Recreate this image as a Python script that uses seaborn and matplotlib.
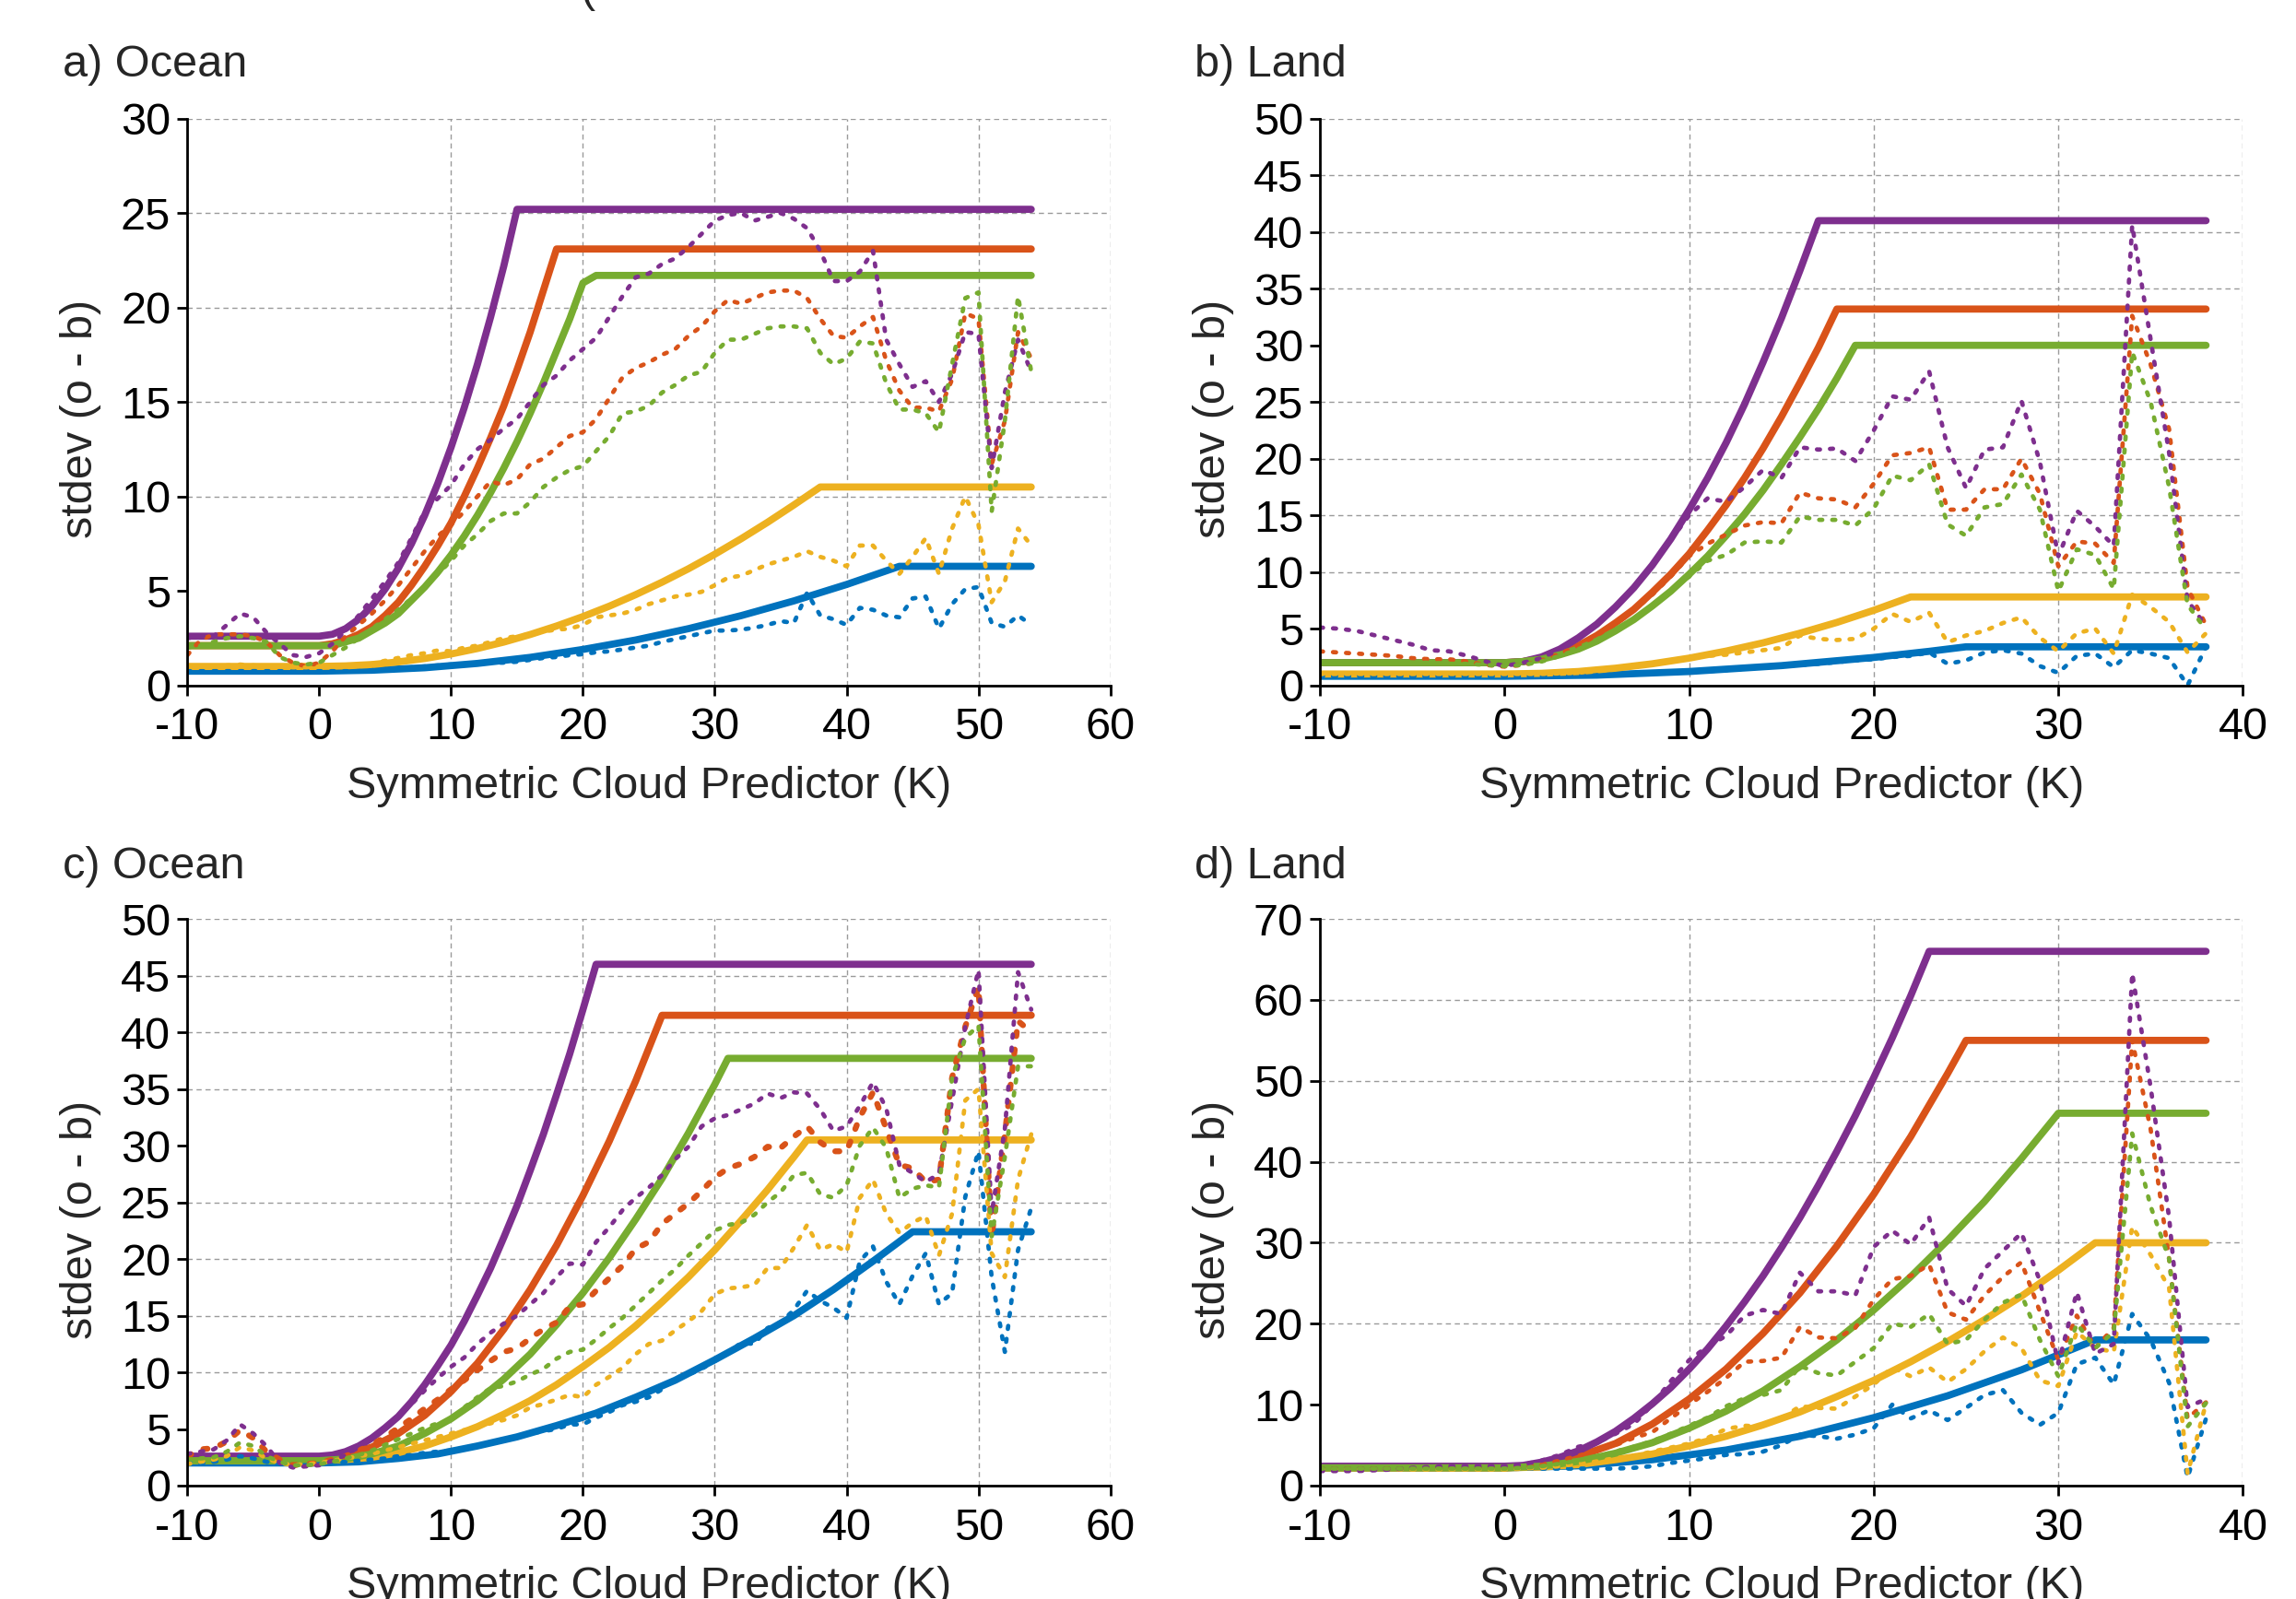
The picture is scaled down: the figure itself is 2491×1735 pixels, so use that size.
import numpy as np
import pandas as pd
import seaborn as sns
import matplotlib.pyplot as plt

# matlab default colours
BLUE = '#0072BD'
ORANGE = '#D95319'
YELLOW = '#EDB120'
PURPLE = '#7E2F8E'
GREEN = '#77AC30'

# predictor bins (K)
ocean_k = list(range(-10, 55))
land_k = list(range(-10, 39))

# ---------------- a) Ocean, observed stdev ----------------
a_blue_obs = [0.75, 0.75, 0.75, 0.75, 0.75, 0.75, 0.75, 0.75, 0.75, 0.75,
              0.75, 0.75, 0.75, 0.75, 0.8, 0.85, 0.9, 0.95, 1.0, 1.05,
              1.1, 1.1, 1.15, 1.2, 1.2, 1.25, 1.35, 1.45, 1.5, 1.6,
              1.65, 1.75, 1.8, 1.9, 2.0, 2.1, 2.3, 2.45, 2.6, 2.75,
              2.9, 2.9, 2.95, 3.05, 3.2, 3.4, 3.3, 4.9, 3.7, 3.5,
              3.2, 4.1, 4.0, 3.7, 3.6, 4.6, 4.7, 3.0, 4.3, 5.1,
              5.2, 3.3, 3.1, 3.7, 3.2]
a_orange_obs = [1.6, 2.4, 2.7, 2.7, 2.7, 2.6, 2.3, 1.6, 1.2, 1.0,
                1.2, 1.8, 2.6, 3.2, 3.8, 4.5, 5.3, 6.2, 7.1, 7.9,
                8.5, 9.2, 10.0, 10.8, 10.6, 10.9, 11.7, 12.0, 12.6, 13.2,
                13.4, 14.1, 15.2, 16.3, 16.8, 17.1, 17.5, 17.8, 18.5, 19.0,
                19.8, 20.4, 20.2, 20.5, 20.8, 20.9, 20.9, 20.5, 19.4, 18.5,
                18.4, 19.0, 19.5, 17.2, 15.6, 14.7, 14.7, 14.5, 16.2, 19.7,
                19.4, 11.7, 14.0, 18.7, 17.3]
a_yellow_obs = [1.0, 1.0, 1.0, 1.05, 1.1, 1.05, 1.0, 1.0, 0.95, 0.95,
                1.0, 1.0, 1.0, 1.05, 1.15, 1.3, 1.45, 1.6, 1.7, 1.85,
                1.8, 2.0, 2.1, 2.3, 2.5, 2.6, 2.7, 2.85, 2.95, 3.0,
                3.2, 3.6, 3.7, 3.8, 4.0, 4.3, 4.5, 4.7, 4.8, 4.95,
                5.3, 5.7, 5.8, 6.1, 6.4, 6.6, 6.8, 7.1, 6.8, 6.6,
                6.3, 7.4, 7.4, 6.6, 5.9, 6.8, 7.8, 5.9, 8.3, 10.0,
                8.5, 4.4, 5.5, 8.3, 7.4]
a_purple_obs = [2.5, 2.6, 2.6, 3.2, 3.8, 3.6, 2.8, 2.2, 1.6, 1.5,
                1.7, 2.2, 2.9, 3.7, 4.6, 5.5, 6.5, 7.8, 9.2, 9.9,
                10.6, 11.7, 12.5, 13.0, 13.6, 14.1, 15.0, 15.9, 16.4, 17.2,
                17.8, 18.4, 19.5, 20.6, 21.6, 21.8, 22.3, 22.6, 23.2, 23.9,
                24.6, 24.9, 25.0, 24.6, 24.8, 25.0, 24.7, 24.2, 23.0, 21.4,
                21.4, 21.9, 23.0, 18.3, 17.0, 15.8, 16.1, 15.0, 16.5, 18.7,
                18.6, 11.5, 15.5, 18.3, 16.6]
a_green_obs = [2.0, 2.1, 2.3, 2.5, 2.6, 2.5, 2.3, 1.5, 1.2, 1.1,
               1.2, 1.6, 2.0, 2.5, 3.0, 3.5, 4.0, 4.6, 5.2, 5.9,
               6.6, 7.4, 8.0, 8.7, 9.1, 9.1, 9.7, 10.5, 11.0, 11.4,
               11.6, 12.4, 13.2, 14.4, 14.5, 14.8, 15.5, 15.9, 16.4, 16.6,
               17.6, 18.3, 18.3, 18.6, 18.9, 19.0, 19.0, 18.9, 17.6, 17.0,
               17.3, 18.2, 18.1, 16.0, 14.6, 14.6, 14.4, 13.4, 17.0, 20.5,
               20.8, 9.2, 14.0, 20.6, 16.6]

# a) Ocean, error model
a_blue_fit_x = [-10, 0, 4, 8, 12, 16, 20, 24, 28, 32, 36, 40, 44, 54]
a_blue_fit = [0.75, 0.75, 0.8, 0.93, 1.16, 1.48, 1.9, 2.4, 3.0, 3.69, 4.47, 5.34, 6.3, 6.3]
a_orange_fit_x = [-10, 0, 1, 2, 3, 4, 5, 6, 7, 8, 9, 10, 11, 12, 13, 14, 15, 16, 17, 18, 54]
a_orange_fit = [2.1, 2.1, 2.2, 2.4, 2.7, 3.1, 3.7, 4.4, 5.3, 6.3, 7.4, 8.6, 10.0, 11.5, 13.1,
                14.8, 16.7, 18.7, 20.9, 23.1, 23.1]
a_yellow_fit_x = [-10, 0, 2, 4, 6, 8, 10, 12, 14, 16, 18, 20, 22, 24, 26, 28, 30, 32, 34, 36, 38, 54]
a_yellow_fit = [1.0, 1.0, 1.03, 1.1, 1.24, 1.42, 1.66, 1.95, 2.29, 2.69, 3.14, 3.64, 4.19, 4.8,
                5.46, 6.17, 6.94, 7.76, 8.63, 9.55, 10.5, 10.5]
a_purple_fit_x = [-10, 0, 1, 2, 3, 4, 5, 6, 7, 8, 9, 10, 11, 12, 13, 14, 15, 54]
a_purple_fit = [2.6, 2.6, 2.7, 3.0, 3.5, 4.2, 5.1, 6.2, 7.5, 9.0, 10.7, 12.6, 14.7, 17.0, 19.5,
                22.2, 25.2, 25.2]
a_green_fit_x = [-10, 0, 1, 2, 3, 4, 5, 6, 7, 8, 9, 10, 11, 12, 13, 14, 15, 16, 17, 18, 19, 20, 21, 54]
a_green_fit = [2.1, 2.1, 2.1, 2.3, 2.5, 2.9, 3.3, 3.8, 4.5, 5.2, 6.0, 6.9, 7.9, 9.0, 10.2, 11.5,
               12.9, 14.4, 16.0, 17.7, 19.4, 21.3, 21.7, 21.7]

# ---------------- b) Land, observed stdev ----------------
b_blue_obs = [0.8, 0.8, 0.8, 0.8, 0.8, 0.8, 0.8, 0.8, 0.8, 0.8,
              0.8, 0.8, 0.8, 0.8, 0.85, 0.9, 0.95, 1.0, 1.05, 1.1,
              1.2, 1.25, 1.35, 1.45, 1.55, 1.65, 1.8, 1.9, 2.05, 2.2,
              2.3, 2.5, 2.6, 2.9, 1.9, 2.2, 2.9, 3.1, 2.8, 1.7,
              1.1, 2.6, 2.8, 1.6, 3.1, 2.8, 2.4, 0.0, 3.4]
b_orange_obs = [3.0, 2.9, 2.8, 2.7, 2.6, 2.4, 2.3, 2.3, 2.1, 1.8,
                1.65, 1.8, 2.2, 2.8, 3.5, 4.4, 5.4, 6.6, 8.0, 9.6,
                11.4, 12.5, 13.3, 14.1, 14.4, 14.3, 17.0, 16.5, 16.4, 15.7,
                17.8, 20.3, 20.5, 21.0, 15.5, 15.5, 17.3, 17.3, 20.0, 16.9,
                10.5, 12.7, 12.5, 10.8, 32.6, 28.3, 22.6, 8.6, 5.3]
b_yellow_obs = [1.0, 1.0, 1.0, 1.0, 1.0, 1.0, 1.0, 1.0, 1.0, 1.0,
                1.0, 1.0, 1.0, 1.05, 1.1, 1.3, 1.5, 1.7, 1.9, 2.1,
                2.4, 2.6, 2.7, 2.9, 3.1, 3.3, 4.4, 4.1, 4.0, 4.1,
                5.0, 6.3, 5.6, 6.4, 3.8, 4.4, 4.8, 5.5, 6.0, 4.2,
                3.0, 4.6, 5.0, 2.8, 8.0, 6.9, 5.6, 2.9, 4.6]
b_purple_obs = [5.1, 5.0, 4.8, 4.4, 4.0, 3.6, 3.1, 3.0, 2.6, 2.1,
                1.7, 2.0, 2.4, 3.2, 4.2, 5.5, 7.0, 8.7, 10.6, 12.8,
                15.0, 16.5, 16.2, 17.5, 19.0, 18.3, 21.0, 20.8, 20.9, 19.8,
                22.5, 25.5, 25.2, 27.7, 21.0, 17.4, 20.8, 21.0, 25.1, 19.7,
                11.4, 15.4, 14.0, 12.3, 40.6, 30.5, 20.5, 7.5, 5.2]
b_green_obs = [2.0, 2.0, 2.0, 2.0, 2.0, 2.0, 2.0, 1.9, 1.9, 1.8,
               1.7, 1.8, 2.1, 2.6, 3.2, 3.9, 4.8, 5.8, 7.0, 8.3,
               9.6, 11.0, 11.5, 12.6, 12.7, 12.6, 14.9, 14.6, 14.6, 14.1,
               15.6, 18.5, 18.1, 19.5, 14.2, 13.2, 15.7, 16.0, 18.6, 15.5,
               8.3, 12.0, 11.5, 8.5, 29.4, 25.0, 17.5, 7.1, 4.9]

# b) Land, error model
b_blue_fit_x = [-10, 0, 5, 10, 15, 20, 23, 25, 38]
b_blue_fit = [0.8, 0.8, 0.9, 1.22, 1.74, 2.46, 3.0, 3.4, 3.4]
b_orange_fit_x = [-10, 0, 1, 2, 3, 4, 5, 6, 7, 8, 9, 10, 11, 12, 13, 14, 15, 16, 17, 18, 38]
b_orange_fit = [2.0, 2.0, 2.1, 2.4, 2.9, 3.5, 4.4, 5.5, 6.7, 8.2, 9.8, 11.6, 13.7, 15.9, 18.3,
                20.9, 23.7, 26.7, 29.8, 33.2, 33.2]
b_yellow_fit_x = [-10, 0, 2, 4, 6, 8, 10, 12, 14, 16, 18, 20, 22, 38]
b_yellow_fit = [1.0, 1.0, 1.06, 1.22, 1.51, 1.9, 2.4, 3.02, 3.75, 4.6, 5.55, 6.62, 7.8, 7.8]
b_purple_fit_x = [-10, 0, 1, 2, 3, 4, 5, 6, 7, 8, 9, 10, 11, 12, 13, 14, 15, 16, 17, 38]
b_purple_fit = [2.0, 2.0, 2.1, 2.5, 3.2, 4.2, 5.4, 6.9, 8.6, 10.6, 12.9, 15.5, 18.3, 21.4, 24.8,
                28.5, 32.4, 36.6, 41.0, 41.0]
b_green_fit_x = [-10, 0, 1, 2, 3, 4, 5, 6, 7, 8, 9, 10, 11, 12, 13, 14, 15, 16, 17, 18, 19, 38]
b_green_fit = [2.0, 2.0, 2.1, 2.3, 2.7, 3.2, 3.9, 4.8, 5.8, 7.0, 8.3, 9.8, 11.4, 13.2, 15.1,
               17.2, 19.5, 21.9, 24.4, 27.1, 30.0, 30.0]

# ---------------- c) Ocean, observed stdev ----------------
c_blue_obs = [2.0, 2.0, 2.1, 2.3, 2.6, 2.4, 2.1, 1.9, 1.8, 1.8,
              1.9, 2.0, 2.1, 2.2, 2.3, 2.4, 2.6, 2.7, 2.9, 3.0,
              3.1, 3.3, 3.5, 3.8, 4.0, 4.3, 4.6, 4.8, 5.0, 5.4,
              5.4, 6.0, 6.5, 7.1, 7.4, 7.8, 8.5, 9.5, 9.8, 10.3,
              11.0, 11.7, 12.6, 12.5, 13.9, 14.4, 15.5, 17.2, 16.3, 15.7,
              14.8, 19.8, 21.1, 18.0, 16.0, 18.5, 20.5, 16.0, 17.0, 25.5,
              29.5, 18.4, 11.8, 20.8, 24.5]
c_orange_obs = [2.6, 3.2, 3.3, 3.9, 4.9, 4.2, 3.0, 2.3, 1.8, 1.9,
                2.0, 2.3, 2.6, 3.1, 3.6, 4.3, 5.1, 5.9, 6.8, 7.6,
                8.5, 9.3, 10.2, 11.0, 11.8, 12.1, 13.0, 13.8, 14.4, 15.8,
                16.0, 17.2, 18.3, 19.4, 20.9, 21.5, 23.1, 24.0, 24.9, 26.0,
                27.2, 28.0, 28.4, 29.0, 29.9, 29.8, 30.8, 31.7, 30.3, 29.5,
                29.5, 32.5, 34.7, 31.5, 28.3, 28.0, 26.8, 27.0, 36.0, 40.5,
                44.0, 22.0, 31.0, 41.0, 40.0]
c_yellow_obs = [1.9, 2.1, 2.3, 2.6, 3.4, 3.1, 2.4, 2.0, 1.8, 1.9,
                2.0, 2.2, 2.4, 2.6, 2.8, 3.1, 3.4, 3.7, 4.0, 4.3,
                4.6, 4.9, 5.2, 5.5, 5.8, 6.2, 6.9, 7.2, 7.6, 8.0,
                7.8, 8.9, 9.6, 10.4, 11.6, 12.5, 12.8, 13.7, 14.5, 15.4,
                16.9, 17.4, 17.5, 17.7, 19.2, 19.2, 21.0, 23.0, 20.8, 21.3,
                20.6, 25.4, 27.0, 24.0, 22.3, 23.2, 23.8, 20.3, 24.0, 34.0,
                35.0, 20.5, 18.4, 27.0, 31.0]
c_purple_obs = [2.8, 3.0, 3.2, 4.0, 5.4, 4.6, 3.5, 2.0, 1.6, 1.7,
                1.8, 2.2, 2.7, 3.4, 4.2, 5.1, 6.1, 7.2, 8.4, 9.5,
                10.5, 11.3, 12.5, 13.5, 14.3, 15.0, 16.0, 17.0, 18.4, 19.6,
                19.5, 21.5, 22.8, 24.3, 25.4, 26.3, 27.4, 28.8, 29.9, 31.7,
                32.4, 32.7, 33.2, 33.7, 34.6, 34.2, 34.7, 34.6, 33.2, 31.3,
                31.7, 33.5, 35.6, 33.3, 28.3, 27.6, 26.8, 27.5, 34.0, 40.5,
                45.5, 24.0, 31.5, 45.3, 42.0]
c_green_obs = [2.3, 2.4, 2.5, 3.0, 3.8, 3.5, 2.6, 2.1, 1.8, 1.8,
               1.9, 2.1, 2.4, 2.7, 3.1, 3.6, 4.1, 4.6, 5.1, 5.5,
               5.8, 6.9, 7.8, 8.6, 8.8, 9.2, 9.8, 10.3, 11.2, 11.8,
               12.0, 12.9, 13.9, 14.8, 15.9, 17.0, 18.1, 19.1, 20.3, 21.4,
               22.5, 23.0, 23.2, 23.9, 25.0, 25.9, 27.4, 27.6, 25.7, 25.4,
               26.5, 30.0, 31.6, 29.8, 25.4, 26.2, 26.5, 26.3, 36.0, 39.5,
               40.6, 22.0, 29.0, 37.0, 37.0]

# c) Ocean, error model
c_blue_fit_x = [-10, 0, 3, 6, 9, 12, 15, 18, 21, 24, 27, 30, 33, 36, 39, 42, 45, 54]
c_blue_fit = [2.0, 2.0, 2.1, 2.4, 2.8, 3.5, 4.3, 5.3, 6.4, 7.8, 9.3, 11.1, 13.0, 15.0, 17.3,
              19.8, 22.4, 22.4]
c_orange_fit_x = [-10, 0, 2, 4, 6, 8, 10, 12, 14, 16, 18, 20, 22, 24, 26, 54]
c_orange_fit = [2.5, 2.5, 2.7, 3.4, 4.6, 6.2, 8.3, 10.8, 13.8, 17.3, 21.2, 25.6, 30.4, 35.7,
                41.5, 41.5]
c_yellow_fit_x = [-10, 0, 2, 4, 6, 8, 10, 12, 14, 16, 18, 20, 22, 24, 26, 28, 30, 32, 34, 36, 37, 54]
c_yellow_fit = [2.2, 2.2, 2.3, 2.5, 2.9, 3.5, 4.3, 5.2, 6.3, 7.5, 8.9, 10.5, 12.2, 14.1, 16.2,
                18.4, 20.8, 23.4, 26.1, 29.0, 30.5, 30.5]
c_purple_fit_x = [-10, 0, 1, 2, 3, 4, 5, 6, 7, 8, 9, 10, 11, 12, 13, 14, 15, 16, 17, 18, 19, 20, 21, 54]
c_purple_fit = [2.6, 2.6, 2.7, 3.0, 3.5, 4.2, 5.1, 6.1, 7.4, 8.9, 10.6, 12.4, 14.5, 16.8, 19.2,
                21.9, 24.7, 27.8, 31.0, 34.5, 38.1, 42.0, 46.0, 46.0]
c_green_fit_x = [-10, 0, 2, 4, 6, 8, 10, 12, 14, 16, 18, 20, 22, 24, 26, 28, 30, 31, 54]
c_green_fit = [2.2, 2.2, 2.35, 2.8, 3.5, 4.6, 5.9, 7.5, 9.4, 11.6, 14.2, 17.0, 20.1, 23.5, 27.1,
               31.1, 35.4, 37.7, 37.7]

# ---------------- d) Land, observed stdev ----------------
d_blue_obs = [2.1, 2.1, 2.1, 2.1, 2.1, 2.1, 2.1, 2.1, 2.1, 2.1,
              2.1, 2.1, 2.1, 2.1, 2.1, 2.1, 2.1, 2.2, 2.4, 2.8,
              3.1, 3.4, 3.8, 3.9, 4.2, 5.0, 6.3, 6.1, 5.8, 6.3,
              7.1, 10.0, 8.3, 9.3, 8.1, 9.6, 11.2, 11.8, 9.0, 7.5,
              9.0, 15.0, 15.8, 12.5, 21.2, 18.0, 12.7, 1.0, 8.3]
d_orange_obs = [2.1, 2.1, 2.1, 2.1, 2.1, 2.1, 2.2, 2.2, 2.2, 2.2,
                2.2, 2.3, 2.6, 3.1, 3.7, 4.3, 5.0, 5.9, 6.6, 8.3,
                10.0, 11.6, 13.3, 15.3, 15.4, 15.8, 19.6, 18.3, 18.2, 19.5,
                23.0, 25.5, 25.9, 27.3, 21.4, 20.5, 23.5, 25.8, 27.6, 21.5,
                15.5, 21.0, 17.0, 19.5, 55.0, 44.0, 28.0, 8.3, 10.3]
d_yellow_obs = [2.0, 2.0, 2.0, 2.0, 2.0, 2.0, 2.0, 2.0, 2.0, 2.0,
                2.0, 2.1, 2.2, 2.4, 2.7, 3.0, 3.4, 3.7, 4.2, 4.7,
                5.2, 5.9, 7.0, 7.4, 7.3, 8.3, 9.8, 9.6, 9.5, 11.0,
                12.5, 14.6, 13.5, 14.6, 12.8, 14.4, 16.6, 18.3, 17.0, 13.0,
                12.3, 19.0, 17.0, 16.5, 32.0, 28.5, 24.4, 1.5, 10.2]
d_purple_obs = [1.8, 1.8, 1.8, 1.9, 2.0, 2.2, 2.3, 2.4, 2.4, 2.4,
                2.4, 2.6, 3.1, 3.8, 4.8, 5.3, 6.4, 7.6, 10.0, 12.9,
                15.5, 17.2, 18.5, 21.0, 21.7, 21.2, 26.3, 24.0, 24.0, 23.5,
                29.5, 31.5, 29.8, 33.1, 24.3, 22.2, 26.8, 29.0, 31.2, 25.3,
                15.1, 23.9, 16.3, 17.5, 63.3, 49.2, 33.1, 9.7, 10.7]
d_green_obs = [2.1, 2.1, 2.1, 2.1, 2.1, 2.1, 2.1, 2.1, 2.1, 2.1,
               2.1, 2.2, 2.4, 2.7, 3.1, 3.6, 4.2, 4.8, 5.5, 6.4,
               7.4, 8.4, 9.8, 10.8, 11.2, 11.8, 14.8, 13.9, 13.6, 15.3,
               17.0, 20.0, 19.6, 21.2, 17.5, 18.0, 20.5, 22.6, 23.6, 18.0,
               13.5, 20.0, 17.0, 19.0, 43.5, 34.5, 28.0, 7.3, 10.2]

# d) Land, error model
d_blue_fit_x = [-10, 0, 4, 8, 12, 16, 20, 24, 28, 32, 38]
d_blue_fit = [2.2, 2.2, 2.45, 3.2, 4.4, 6.1, 8.4, 11.1, 14.3, 18.0, 18.0]
d_orange_fit_x = [-10, 0, 2, 4, 6, 8, 10, 12, 14, 16, 18, 20, 22, 24, 25, 38]
d_orange_fit = [2.2, 2.2, 2.5, 3.6, 5.2, 7.6, 10.7, 14.4, 18.8, 23.8, 29.6, 36.0, 43.1, 50.9,
                55.0, 55.0]
d_yellow_fit_x = [-10, 0, 2, 4, 6, 8, 10, 12, 14, 16, 18, 20, 22, 24, 26, 28, 30, 32, 38]
d_yellow_fit = [2.2, 2.2, 2.3, 2.6, 3.2, 3.9, 4.9, 6.1, 7.5, 9.1, 11.0, 13.0, 15.3, 17.8, 20.5,
                23.4, 26.6, 30.0, 30.0]
d_purple_fit_x = [-10, 0, 1, 2, 3, 4, 5, 6, 7, 8, 9, 10, 11, 12, 13, 14, 15, 16, 17, 18, 19,
                  20, 21, 22, 23, 38]
d_purple_fit = [2.4, 2.4, 2.5, 2.9, 3.5, 4.3, 5.4, 6.7, 8.3, 10.1, 12.1, 14.4, 16.9, 19.7, 22.7,
                25.9, 29.4, 33.1, 37.1, 41.3, 45.7, 50.4, 55.3, 60.5, 66.0, 66.0]
d_green_fit_x = [-10, 0, 2, 4, 6, 8, 10, 12, 14, 16, 18, 20, 22, 24, 26, 28, 30, 38]
d_green_fit = [2.2, 2.2, 2.4, 3.0, 4.0, 5.3, 7.1, 9.2, 11.7, 14.7, 18.0, 21.7, 25.8, 30.3, 35.1,
               40.4, 46.0, 46.0]


FS = 35
DOT = (0, (0.7, 2.3))


def draw_panel(ax, k, obs, fits, xmax, ymax, ystep, thick=()):
    colors = [BLUE, ORANGE, YELLOW, PURPLE, GREEN]
    # error model first, observed stdev on top
    for (fx, fy), col in zip(fits, colors):
        sns.lineplot(x=fx, y=fy, ax=ax, color=col, linewidth=5.6,
                     estimator=None, sort=False, legend=False,
                     solid_capstyle='round', solid_joinstyle='round')
    for i, (oy, col) in enumerate(zip(obs, colors)):
        df = pd.DataFrame({'k': k, 'sd': oy})
        lw = 4.6 if i in thick else 3.4
        sns.lineplot(data=df, x='k', y='sd', ax=ax, color=col, linewidth=lw,
                     linestyle=DOT, dash_capstyle='round', estimator=None,
                     sort=False, legend=False)

    ax.set_xlim(-10, xmax)
    ax.set_ylim(0, ymax)
    ax.set_xticks(np.arange(-10, xmax + 1, 10))
    ax.set_yticks(np.arange(0, ymax + 1, ystep))
    ax.grid(True, color='#9a9a9a', linestyle=(0, (4, 3)), linewidth=1.0)
    ax.set_axisbelow(True)
    for t in ax.xaxis.get_major_ticks():
        if t.get_loc() in (-10, xmax):
            t.gridline.set_visible(False)
    for t in ax.yaxis.get_major_ticks():
        if t.get_loc() in (0, ymax):
            t.gridline.set_visible(False)

    sns.despine(ax=ax)
    for s in ('left', 'bottom'):
        ax.spines[s].set_linewidth(2.0)
        ax.spines[s].set_color('black')
    ax.tick_params(direction='out', length=8, width=2.0, labelsize=FS, colors='black')
    ax.tick_params(axis='x', pad=9)
    ax.tick_params(axis='y', pad=5)
    ax.set_xlabel('Symmetric Cloud Predictor (K)', fontsize=FS)
    ax.set_ylabel('stdev (o - b)', fontsize=FS)
    ax.xaxis.set_label_coords(0.5, -0.142)
    ax.yaxis.set_label_coords(-0.093, 0.47)


sns.set_style('ticks')
plt.rcParams['font.family'] = ['Liberation Sans', 'DejaVu Sans']
plt.rcParams['axes.unicode_minus'] = False

fig = plt.figure(figsize=(24.91, 17.35), dpi=100)

W = 0.4020
H = 0.3544
ax_a = fig.add_axes([0.0816, 0.5714, W, H])
ax_b = fig.add_axes([0.5749, 0.5714, W, H])
ax_c = fig.add_axes([0.0816, 0.0709, W, H])
ax_d = fig.add_axes([0.5749, 0.0709, W, H])

draw_panel(ax_a, ocean_k,
           [a_blue_obs, a_orange_obs, a_yellow_obs, a_purple_obs, a_green_obs],
           [(a_blue_fit_x, a_blue_fit), (a_orange_fit_x, a_orange_fit),
            (a_yellow_fit_x, a_yellow_fit), (a_purple_fit_x, a_purple_fit),
            (a_green_fit_x, a_green_fit)],
           60, 30, 5)
draw_panel(ax_b, land_k,
           [b_blue_obs, b_orange_obs, b_yellow_obs, b_purple_obs, b_green_obs],
           [(b_blue_fit_x, b_blue_fit), (b_orange_fit_x, b_orange_fit),
            (b_yellow_fit_x, b_yellow_fit), (b_purple_fit_x, b_purple_fit),
            (b_green_fit_x, b_green_fit)],
           40, 50, 5)
draw_panel(ax_c, ocean_k,
           [c_blue_obs, c_orange_obs, c_yellow_obs, c_purple_obs, c_green_obs],
           [(c_blue_fit_x, c_blue_fit), (c_orange_fit_x, c_orange_fit),
            (c_yellow_fit_x, c_yellow_fit), (c_purple_fit_x, c_purple_fit),
            (c_green_fit_x, c_green_fit)],
           60, 50, 5, thick=(1,))
draw_panel(ax_d, land_k,
           [d_blue_obs, d_orange_obs, d_yellow_obs, d_purple_obs, d_green_obs],
           [(d_blue_fit_x, d_blue_fit), (d_orange_fit_x, d_orange_fit),
            (d_yellow_fit_x, d_yellow_fit), (d_purple_fit_x, d_purple_fit),
            (d_green_fit_x, d_green_fit)],
           40, 70, 10)

fig.text(0.0273, 0.9522, 'a) Ocean', fontsize=FS, va='baseline')
fig.text(0.5203, 0.9522, 'b) Land', fontsize=FS, va='baseline')
fig.text(0.0273, 0.4507, 'c) Ocean', fontsize=FS, va='baseline')
fig.text(0.5203, 0.4507, 'd) Land', fontsize=FS, va='baseline')
# stray bracket cut off at the top edge
fig.text(0.256, 1.006, '(', fontsize=FS, ha='center', va='center')

fig.savefig('out.png', dpi=100)
